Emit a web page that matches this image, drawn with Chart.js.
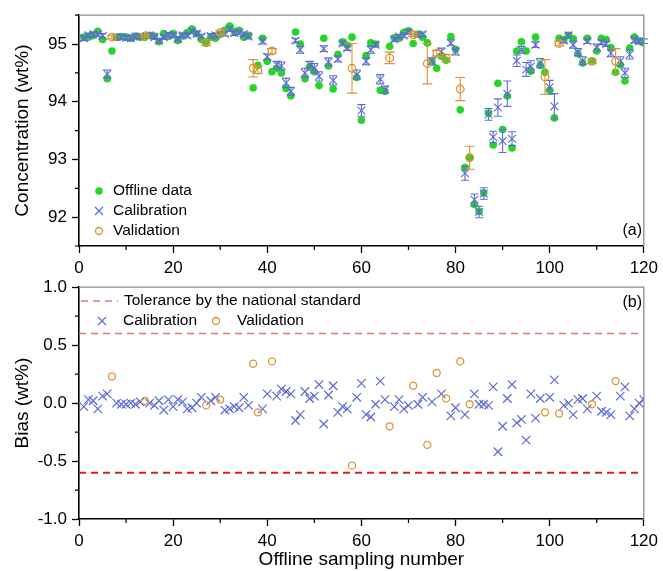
<!DOCTYPE html>
<html>
<head>
<meta charset="utf-8">
<script src="https://cdn.jsdelivr.net/npm/chart.js@4.4.0/dist/chart.umd.min.js"></script>
<style>
  body { margin: 0; background: #fff; }
  canvas { display: block; position: absolute; left: 0; }
  #chartTop { top: 0; }
  #chartBottom { top: 272px; }
</style>
</head>
<body>
<canvas id="chartTop" width="663" height="285"></canvas>
<canvas id="chartBottom" width="663" height="299"></canvas>
<script>
// sampling numbers and offline (lab) concentrations, wt%
var sampleNo = [
  1, 2, 3, 4, 5, 6, 7, 8, 9, 10, 11, 12, 13, 14, 15, 16, 17, 18, 19, 20,
  21, 22, 23, 24, 25, 26, 27, 28, 29, 30, 31, 32, 33, 34, 35, 36, 37, 38, 39, 40,
  41, 42, 43, 44, 45, 46, 47, 48, 49, 50, 51, 52, 53, 54, 55, 56, 57, 58, 59, 60,
  61, 62, 63, 64, 65, 66, 67, 68, 69, 70, 71, 72, 73, 74, 75, 76, 77, 78, 79, 80,
  81, 82, 83, 84, 85, 86, 87, 88, 89, 90, 91, 92, 93, 94, 95, 96, 97, 98, 99, 100,
  101, 102, 103, 104, 105, 106, 107, 108, 109, 110, 111, 112, 113, 114, 115, 116, 117, 118, 119, 120
];
var offline = [
  95.12, 95.12, 95.15, 95.22, 95.08, 94.40, 94.88, 95.12, 95.13, 95.12,
  95.10, 95.14, 95.12, 95.12, 95.15, 95.14, 95.04, 95.18, 95.13, 95.18,
  95.06, 95.14, 95.20, 95.26, 95.18, 95.08, 95.04, 95.12, 95.10, 95.17,
  95.24, 95.31, 95.22, 95.24, 95.12, 95.15, 94.24, 94.63, 95.10, 94.70,
  94.52, 94.58, 94.50, 94.23, 94.10, 95.21, 95.00, 94.40, 94.60, 94.52,
  94.28, 95.10, 94.62, 94.22, 94.82, 95.04, 94.98, 95.12, 94.42, 93.68,
  94.80, 95.02, 95.00, 94.20, 94.18, 94.96, 95.11, 95.10, 95.20, 95.23,
  95.01, 95.17, 95.12, 95.02, 94.69, 94.58, 94.79, 94.72, 95.13, 94.91,
  93.86, 92.86, 93.03, 92.22, 92.10, 92.42, 93.80, 93.25, 94.32, 93.52,
  94.10, 93.20, 94.88, 95.04, 94.88, 94.53, 95.12, 94.63, 94.51, 94.20,
  93.72, 95.10, 95.08, 95.15, 95.09, 94.83, 94.67, 95.10, 94.71, 94.88,
  95.10, 95.08, 94.94, 94.51, 94.64, 94.36, 94.93, 95.12, 95.05, 95.02
];

// calibration set
var calNo = [
  1, 2, 3, 4, 5, 6, 8, 9, 10, 11, 12, 13, 15, 16, 17, 18, 19, 20, 21, 22,
  23, 24, 25, 26, 28, 29, 31, 32, 33, 34, 35, 36, 39, 40, 42, 43, 44, 45, 46, 47,
  48, 49, 50, 51, 52, 53, 54, 55, 56, 57, 59, 60, 61, 62, 63, 64, 65, 67, 68, 69,
  70, 72, 73, 75, 77, 79, 80, 82, 84, 85, 86, 87, 88, 89, 90, 91, 92, 93, 94, 95,
  96, 97, 98, 100, 101, 103, 104, 105, 106, 107, 108, 110, 111, 112, 113, 115, 116, 117, 118, 119,
  120
];
var calConc = [
  95.10, 95.15, 95.17, 95.17, 95.14, 94.48, 95.12, 95.12, 95.11, 95.10, 95.13, 95.13, 95.15, 95.12, 95.06, 95.12, 95.16, 95.15, 95.09, 95.15,
  95.15, 95.22, 95.18, 95.13, 95.14, 95.15, 95.18, 95.26, 95.19, 95.20, 95.17, 95.13, 95.05, 94.78, 94.64, 94.62, 94.33, 94.18, 95.06, 94.90,
  94.50, 94.64, 94.58, 94.44, 94.92, 94.69, 94.37, 94.74, 95.01, 94.93, 94.47, 93.85, 94.70, 94.90, 94.99, 94.39, 94.21, 95.08, 95.13, 95.15,
  95.21, 95.16, 95.17, 94.70, 94.87, 95.02, 94.87, 92.76, 92.30, 92.09, 92.41, 93.78, 93.39, 93.90, 93.32, 94.14, 93.36, 94.71, 94.90, 94.56,
  94.61, 94.99, 94.67, 94.25, 93.92, 95.06, 95.15, 94.99, 94.86, 94.71, 95.05, 94.94, 95.03, 95.00, 94.84, 94.70, 94.50, 94.82, 95.07, 95.05,
  95.05
];
var calErr = [
  0.04, 0.04, 0.04, 0.04, 0.04, 0.07, 0.04, 0.04, 0.04, 0.04, 0.04, 0.04, 0.04, 0.04, 0.04, 0.04, 0.04, 0.04, 0.04, 0.04,
  0.04, 0.04, 0.04, 0.04, 0.04, 0.04, 0.04, 0.04, 0.04, 0.04, 0.04, 0.04, 0.05, 0.05, 0.06, 0.07, 0.08, 0.07, 0.04, 0.06,
  0.08, 0.06, 0.08, 0.08, 0.05, 0.07, 0.08, 0.05, 0.04, 0.04, 0.08, 0.10, 0.06, 0.06, 0.04, 0.08, 0.06, 0.04, 0.04, 0.04,
  0.04, 0.04, 0.04, 0.06, 0.06, 0.05, 0.06, 0.12, 0.10, 0.10, 0.10, 0.10, 0.10, 0.15, 0.20, 0.22, 0.12, 0.10, 0.06, 0.12,
  0.10, 0.05, 0.08, 0.12, 0.22, 0.04, 0.04, 0.06, 0.06, 0.07, 0.04, 0.06, 0.04, 0.04, 0.06, 0.08, 0.08, 0.08, 0.05, 0.04,
  0.04
];
var calBias = [
  -0.03, 0.03, 0.02, -0.05, 0.06, 0.08, 0.00, -0.01, -0.01, 0.00, -0.01, 0.01, 0.00, -0.02, 0.02, -0.06, 0.03, -0.03, 0.03, 0.01,
  -0.05, -0.04, 0.00, 0.05, 0.02, 0.05, -0.06, -0.05, -0.03, -0.04, 0.05, -0.02, -0.05, 0.08, 0.06, 0.12, 0.10, 0.08, -0.15, -0.10,
  0.10, 0.04, 0.06, 0.16, -0.18, 0.07, 0.15, -0.08, -0.03, -0.05, 0.05, 0.17, -0.10, -0.12, -0.01, 0.19, 0.03, -0.03, 0.03, -0.05,
  -0.02, -0.01, 0.05, 0.01, 0.08, -0.11, -0.04, -0.10, 0.08, -0.01, -0.01, -0.02, 0.14, -0.42, -0.20, 0.04, 0.16, -0.17, -0.14, -0.32,
  0.08, -0.13, 0.04, 0.05, 0.20, -0.02, 0.00, -0.10, 0.03, 0.04, -0.05, 0.06, -0.07, -0.08, -0.10, 0.06, 0.14, -0.11, -0.05, 0.00,
  0.03
];

// validation set
var valNo = [7, 14, 27, 30, 37, 38, 41, 58, 66, 71, 74, 76, 78, 81, 83, 99, 102, 109, 114];
var valConc = [95.12, 95.14, 95.02, 95.20, 94.58, 94.55, 94.88, 94.58, 94.76, 95.16, 94.66, 94.84, 94.76, 94.22, 93.03, 94.43, 95.01, 94.70, 94.70];
var valErr = [0.03, 0.02, 0.05, 0.03, 0.15, 0.06, 0.04, 0.43, 0.10, 0.03, 0.35, 0.05, 0.06, 0.20, 0.20, 0.30, 0.04, 0.04, 0.22];
var valBias = [0.23, 0.02, -0.02, 0.03, 0.34, -0.08, 0.36, -0.54, -0.20, 0.15, -0.36, 0.26, 0.04, 0.36, -0.01, -0.08, -0.09, -0.01, 0.19];

var tolerance = 0.6;
var toleranceX = [0, 120];

// ticks
var xMajor = [0, 20, 40, 60, 80, 100, 120];
var xMinor = [10, 30, 50, 70, 90, 110];
var concMajor = [92, 93, 94, 95];
var concMinor = [91.5, 92.5, 93.5, 94.5, 95.5];
var biasMajor = [-1.0, -0.5, 0.0, 0.5, 1.0];
var biasMinor = [-0.75, -0.25, 0.25, 0.75];

var FONT = "'Liberation Sans', Arial, sans-serif";
Chart.defaults.font.family = FONT;
Chart.defaults.color = '#000';

var GREEN = 'rgb(38,214,38)';
var BLUE = 'rgb(92,108,214)';
var ORANGE = 'rgb(222,146,52)';

function pts(xs, ys) {
  return xs.map(function (x, i) { return { x: x, y: ys[i] }; });
}

// error bars drawn under each dataset's markers
var errorBars = {
  id: 'errorBars',
  beforeDatasetDraw: function (chart, args) {
    var ds = chart.data.datasets[args.index];
    if (!ds.errors) return;
    var ctx = chart.ctx, ys = chart.scales.y;
    ctx.save();
    ctx.strokeStyle = ds.borderColor;
    ctx.lineWidth = 1.1;
    ctx.beginPath();
    args.meta.data.forEach(function (el, i) {
      var v = ds.data[i].y, e = ds.errors[i], c = ds.capHalf;
      var y1 = ys.getPixelForValue(v + e), y2 = ys.getPixelForValue(v - e);
      ctx.moveTo(el.x, y1); ctx.lineTo(el.x, y2);
      ctx.moveTo(el.x - c, y1); ctx.lineTo(el.x + c, y1);
      ctx.moveTo(el.x - c, y2); ctx.lineTo(el.x + c, y2);
    });
    ctx.stroke();
    ctx.restore();
  }
};

// grey top/right frame, minor ticks, legend and panel label
var decor = {
  id: 'decor',
  afterDraw: function (chart, args, o) {
    var ctx = chart.ctx, a = chart.chartArea, sx = chart.scales.x, sy = chart.scales.y;
    ctx.save();
    ctx.strokeStyle = '#8c8c8c';
    ctx.lineWidth = 1.3;
    ctx.beginPath();
    ctx.moveTo(a.left, a.top); ctx.lineTo(a.right, a.top); ctx.lineTo(a.right, a.bottom);
    ctx.stroke();

    ctx.strokeStyle = '#000';
    ctx.lineWidth = 1.2;
    ctx.beginPath();
    o.xMinor.forEach(function (v) {
      var x = sx.getPixelForValue(v);
      ctx.moveTo(x, a.bottom); ctx.lineTo(x, a.bottom + 4);
    });
    o.yMinor.forEach(function (v) {
      var y = sy.getPixelForValue(v);
      ctx.moveTo(a.left, y); ctx.lineTo(a.left - 4, y);
    });
    ctx.stroke();

    ctx.font = '15.5px ' + FONT;
    ctx.textBaseline = 'middle';
    ctx.textAlign = 'left';
    o.items.forEach(function (it) {
      ctx.strokeStyle = it.color;
      ctx.fillStyle = it.color;
      ctx.setLineDash([]);
      if (it.type === 'dot') {
        ctx.beginPath(); ctx.arc(it.x, it.y, 3.8, 0, Math.PI * 2); ctx.fill();
      } else if (it.type === 'cross') {
        ctx.lineWidth = 1.2;
        ctx.beginPath();
        ctx.moveTo(it.x - 4, it.y - 4); ctx.lineTo(it.x + 4, it.y + 4);
        ctx.moveTo(it.x - 4, it.y + 4); ctx.lineTo(it.x + 4, it.y - 4);
        ctx.stroke();
      } else if (it.type === 'ring') {
        ctx.lineWidth = 1.3;
        ctx.beginPath(); ctx.arc(it.x, it.y, 3.5, 0, Math.PI * 2); ctx.stroke();
      } else if (it.type === 'dash') {
        ctx.lineWidth = 1.6;
        ctx.setLineDash([7, 5]);
        ctx.beginPath(); ctx.moveTo(it.x, it.y); ctx.lineTo(it.x2, it.y); ctx.stroke();
        ctx.setLineDash([]);
      }
      ctx.fillStyle = '#000';
      ctx.fillText(it.text, it.tx, it.y);
    });

    ctx.font = '16px ' + FONT;
    ctx.textAlign = 'right';
    ctx.fillStyle = '#000';
    ctx.fillText(o.label.text, o.label.x, o.label.y);
    ctx.restore();
  }
};

function xScale(height, withTitle) {
  return {
    type: 'linear', min: 0, max: 120,
    afterBuildTicks: function (s) { s.ticks = xMajor.map(function (v) { return { value: v }; }); },
    afterFit: function (s) { s.height = height; },
    ticks: { font: { size: 17 }, padding: 5, maxRotation: 0, color: '#000' },
    grid: { drawOnChartArea: false, tickLength: 7, color: '#000', tickWidth: 1.3 },
    border: { color: '#000', width: 1.6 },
    title: {
      display: withTitle, text: 'Offline sampling number',
      font: { size: 19 }, color: '#000', padding: { top: 0, bottom: 0 }
    }
  };
}

function yScale(min, max, major, fmt, titleText) {
  return {
    type: 'linear', min: min, max: max,
    afterBuildTicks: function (s) { s.ticks = major.map(function (v) { return { value: v }; }); },
    afterFit: function (s) { s.width = 79; },
    ticks: { font: { size: 17 }, padding: 5, color: '#000', callback: function (v) { return v.toFixed(fmt); } },
    grid: { drawOnChartArea: false, tickLength: 7, color: '#000', tickWidth: 1.3 },
    border: { color: '#000', width: 1.6 },
    title: {
      display: true, text: titleText,
      font: { size: 19 }, color: '#000', padding: { top: 11, bottom: 0 }
    }
  };
}

var topChart = new Chart(document.getElementById('chartTop').getContext('2d'), {
  type: 'scatter',
  data: {
    datasets: [
      {
        label: 'Offline data',
        data: pts(sampleNo, offline),
        pointStyle: 'circle', pointRadius: 3.8,
        backgroundColor: GREEN, borderColor: GREEN, borderWidth: 0,
        order: 3
      },
      {
        label: 'Calibration',
        data: pts(calNo, calConc),
        errors: calErr, capHalf: 4,
        pointStyle: 'crossRot', pointRadius: 5.5,
        borderColor: BLUE, backgroundColor: BLUE, borderWidth: 1.1,
        order: 2
      },
      {
        label: 'Validation',
        data: pts(valNo, valConc),
        errors: valErr, capHalf: 5,
        pointStyle: 'circle', pointRadius: 3.8,
        borderColor: ORANGE, backgroundColor: 'rgba(255,255,255,0)', borderWidth: 1.3,
        order: 1
      }
    ]
  },
  options: {
    responsive: false,
    animation: false,
    layout: { padding: { top: 14, right: 15, left: 0, bottom: 0 } },
    scales: {
      x: xScale(39, false),
      y: yScale(91.5, 95.5, concMajor, 0, 'Concentration (wt%)')
    },
    plugins: {
      legend: { display: false },
      tooltip: { enabled: false },
      decor: {
        xMinor: xMinor, yMinor: concMinor,
        items: [
          { type: 'dot', color: GREEN, x: 99, y: 191, tx: 113, text: 'Offline data' },
          { type: 'cross', color: BLUE, x: 99, y: 211, tx: 113, text: 'Calibration' },
          { type: 'ring', color: ORANGE, x: 99, y: 231, tx: 113, text: 'Validation' }
        ],
        label: { text: '(a)', x: 642, y: 231 }
      }
    }
  },
  plugins: [errorBars, decor]
});

var bottomChart = new Chart(document.getElementById('chartBottom').getContext('2d'), {
  type: 'scatter',
  data: {
    datasets: [
      {
        type: 'line',
        label: 'Tolerance upper',
        data: pts(toleranceX, [tolerance, tolerance]),
        borderColor: 'rgb(226,118,118)', borderWidth: 1.6, borderDash: [7, 5],
        pointRadius: 0, showLine: true, fill: false,
        order: 4
      },
      {
        type: 'line',
        label: 'Tolerance lower',
        data: pts(toleranceX, [-tolerance, -tolerance]),
        borderColor: 'rgb(214,30,30)', borderWidth: 2, borderDash: [7, 5],
        pointRadius: 0, showLine: true, fill: false,
        order: 3
      },
      {
        label: 'Calibration',
        data: pts(calNo, calBias),
        pointStyle: 'crossRot', pointRadius: 6,
        borderColor: BLUE, backgroundColor: BLUE, borderWidth: 1.2,
        order: 2
      },
      {
        label: 'Validation',
        data: pts(valNo, valBias),
        pointStyle: 'circle', pointRadius: 3.5,
        borderColor: ORANGE, backgroundColor: 'rgba(255,255,255,0)', borderWidth: 1.3,
        order: 1
      }
    ]
  },
  options: {
    responsive: false,
    animation: false,
    layout: { padding: { top: 15, right: 15, left: 0, bottom: 0 } },
    scales: {
      x: xScale(52, true),
      y: yScale(-1, 1, biasMajor, 1, 'Bias (wt%)')
    },
    plugins: {
      legend: { display: false },
      tooltip: { enabled: false },
      decor: {
        xMinor: xMinor, yMinor: biasMinor,
        items: [
          { type: 'dash', color: 'rgb(226,118,118)', x: 81, x2: 118, y: 29, tx: 124, text: 'Tolerance by the national standard' },
          { type: 'cross', color: BLUE, x: 102, y: 49, tx: 123, text: 'Calibration' },
          { type: 'ring', color: ORANGE, x: 216, y: 49, tx: 237, text: 'Validation' }
        ],
        label: { text: '(b)', x: 642, y: 31 }
      }
    }
  },
  plugins: [decor]
});
</script>
</body>
</html>
